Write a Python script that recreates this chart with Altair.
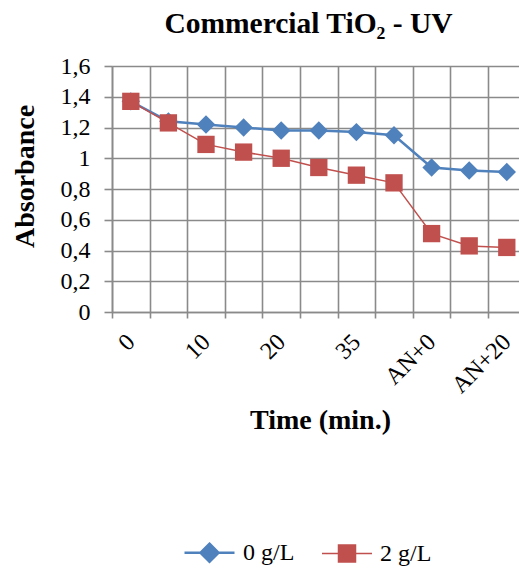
import json
import altair as alt
import pandas as pd

# ---- data ----
categories = ["0", "5", "10", "15", "20", "30", "35", "45", "AN+0", "AN+10", "AN+20"]
series_names = ["0 g/L", "2 g/L"]
absorbance_0 = [1.37, 1.24, 1.22, 1.20, 1.18, 1.18, 1.17, 1.15, 0.94, 0.92, 0.91]
absorbance_2 = [1.37, 1.23, 1.09, 1.04, 1.00, 0.94, 0.89, 0.84, 0.51, 0.43, 0.42]
y_ticks = [0, 0.2, 0.4, 0.6, 0.8, 1.0, 1.2, 1.4, 1.6]
shown_labels = categories[::2]

colors = ["#4F81BD", "#C0504D"]
line_widths = [2.5, 1.5]
point_shapes = ["diamond", "square"]
point_sizes = [340, 300]

rows = []
for name, vals in zip(series_names, [absorbance_0, absorbance_2]):
    for c, v in zip(categories, vals):
        rows.append({"time": c, "series": name, "absorbance": v})
df = pd.DataFrame(rows)

FONT = "Liberation Serif"
GRID = "#8a8a8a"

# legend symbols: a line with the marker on it (unit coords, scaled by sqrt(size)/2)
leg_path0 = "M-1,0L1,0M0,-0.36L0.36,0L0,0.36L-0.36,0Z"
leg_path2 = "M-1,0L1,0M-0.34,-0.34L0.34,-0.34L0.34,0.34L-0.34,0.34Z"
sym_expr = f"datum.value === '{series_names[0]}' ? '{leg_path0}' : '{leg_path2}'"
sw_expr = f"datum.value === '{series_names[0]}' ? {line_widths[0]} : {line_widths[1]}"

legend = alt.Legend(
    title=None,
    orient="none",
    direction="horizontal",
    legendX=71,
    legendY=460,
    padding=0,
    symbolSize=2500,
    symbolType=alt.ExprRef(sym_expr),
    symbolStrokeColor=alt.ExprRef("scale('color', datum.value)"),
    symbolFillColor=alt.ExprRef("scale('color', datum.value)"),
    symbolStrokeWidth=alt.ExprRef(sw_expr),
    labelFont=FONT,
    labelFontSize=24,
    labelColor="black",
    labelOffset=7,
    columnPadding=24,
)

x_enc = alt.X(
    "time:N",
    sort=categories,
    scale=alt.Scale(domain=categories, range=[0, 413.6], paddingInner=0, paddingOuter=0),
    axis=alt.Axis(
        title="Time (min.)",
        grid=True,
        gridColor=GRID,
        gridWidth=1.6,
        tickBand="extent",
        tickSize=6,
        tickColor=GRID,
        tickWidth=1.6,
        domainColor=GRID,
        domainWidth=1.6,
        labelAngle=-45,
        labelAlign="right",
        labelBaseline="middle",
        labelPadding=20,
        labelFont=FONT,
        labelFontSize=24,
        labelColor="black",
        labelExpr=f"indexof({json.dumps(shown_labels)}, datum.value) >= 0 ? datum.label : ''",
        titleFont=FONT,
        titleFontSize=28,
        titleFontWeight="bold",
        titleColor="black",
        titleX=208,
        titleY=116,
        titleBaseline="alphabetic",
        titleAlign="center",
    ),
)

y_enc = alt.Y(
    "absorbance:Q",
    scale=alt.Scale(domain=[0, 1.6], nice=False),
    axis=alt.Axis(
        title="Absorbance",
        values=y_ticks,
        grid=True,
        gridColor=GRID,
        gridWidth=1.6,
        tickSize=8,
        tickColor=GRID,
        tickWidth=1.6,
        domainColor=GRID,
        domainWidth=1.6,
        labelPadding=14,
        labelFont=FONT,
        labelFontSize=24,
        labelColor="black",
        labelExpr="replace(format(datum.value, '~g'), '.', ',')",
        titleFont=FONT,
        titleFontSize=28,
        titleFontWeight="bold",
        titleColor="black",
        titleX=-79,
        titleY=110,
        titleBaseline="alphabetic",
        titleAlign="center",
        titleAngle=-90,
    ),
)

color_scale = alt.Scale(domain=series_names, range=colors)

lines = alt.Chart(df).mark_line().encode(
    x=x_enc,
    y=y_enc,
    color=alt.Color("series:N", scale=color_scale, legend=legend),
    strokeWidth=alt.StrokeWidth(
        "series:N", scale=alt.Scale(domain=series_names, range=line_widths), legend=None
    ),
)

point_layers = []
for name, shp, sz, col in zip(series_names, point_shapes, point_sizes, colors):
    point_layers.append(
        alt.Chart(df)
        .transform_filter(alt.datum.series == name)
        .mark_point(filled=True, opacity=1, shape=shp, size=sz, color=col)
        .encode(x=x_enc, y=y_enc)
    )

chart = (
    alt.layer(lines, *point_layers)
    .properties(
        width=407,
        height=246,
        autosize=alt.AutoSizeParams(type="none"),
        padding={"left": 112, "top": 66, "right": 0, "bottom": 260},
        title=alt.TitleParams(
            text="Commercial TiO\u2082 - UV",
            font=FONT,
            fontSize=29.5,
            fontWeight="bold",
            color="black",
            anchor="middle",
            dx=-7,
            offset=15,
        ),
    )
    .configure_view(stroke=None)
    .configure(background="white")
)

chart.save("out.html", embed_options={"renderer": "svg", "actions": False})
